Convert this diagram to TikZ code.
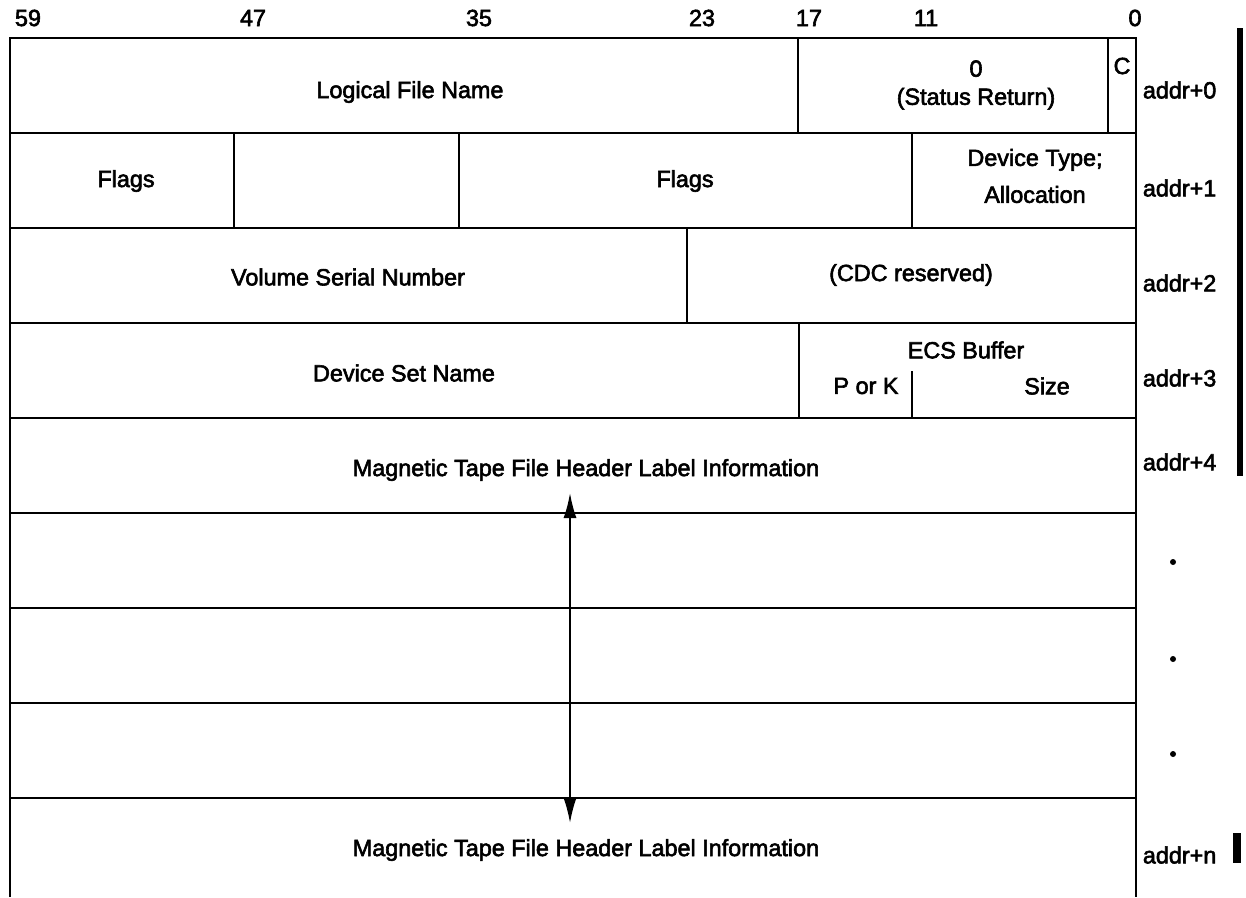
\documentclass[tikz,border=0pt]{standalone}
\usepackage{fontspec}
\setmainfont{Liberation Sans}[FakeBold=2.5,AutoFakeBold=2.5]
\usetikzlibrary{arrows.meta}

\begin{document}
\begin{tikzpicture}[x=0.2mm,y=-0.2mm,line width=1.3pt,
  txt/.style={font=\fontsize{13.3}{16}\selectfont,inner sep=1pt,align=center},
  addr/.style={txt,anchor=west},
  dot/.style={circle,fill,inner sep=0,minimum size=1.2mm},
  bar/.style={line width=3.8pt}]
\useasboundingbox (0,0) rectangle (1246,897);
\draw[line width=1.5pt] (10,897)--(10,38)--(1136,38)--(1136,897);
\foreach \y in {133,228,...,798} \draw (10,\y)--(1136,\y);
\draw (798,38)--(798,133) (1108,38)--(1108,133);
\draw (234,133)--(234,228) (459,133)--(459,228) (912,133)--(912,228);
\draw (687,228)--(687,323);
\draw (799,323)--(799,418) (912,371)--(912,418);
\foreach \b/\x in {59/28,47/253,35/479,23/702,17/809,11/926,0/1135}
  \node[txt] (bit\b) at (\x,18) {\b};
\node[txt] (lfn) at (410,92) {Logical File Name};
\node[txt] (stat) at (976,85) {0\\(Status Return)};
\node[txt] (cbit) at (1122,66) {C};
\node[txt] (flagsa) at (126,181) {Flags};
\node[txt] (flagsb) at (685,181) {Flags};
\node[txt] (dev) at (1035,176) {Device Type;\\[5pt]Allocation};
\node[txt] (vsn) at (348,277) {Volume Serial Number};
\node[txt] (cdc) at (911,275) {(CDC reserved)};
\node[txt] (dsn) at (404,373) {Device Set Name};
\node[txt] (ecs) at (966,350) {ECS Buffer};
\node[txt] (pork) at (866,386) {P or K};
\node[txt] (size) at (1047,386) {Size};
\node[txt] (maga) at (586,470) {Magnetic Tape File Header Label Information};
\node[txt] (magb) at (586,850) {Magnetic Tape File Header Label Information};
\foreach \k/\y in {0/90,1/188,2/283,3/378,4/462,n/855}
  \node[addr] (addr\k) at (1140,\y) {addr+\k};
\foreach \i/\y in {1/562,2/659,3/754} \node[dot] (dot\i) at (1173,\y) {};
\coordinate (tipup) at (570,493);
\coordinate (tipdn) at (570,823);
\draw[line width=1pt,{Latex[length=5mm,width=2.6mm]}-{Latex[length=5mm,width=2.6mm]}] (tipup)--(tipdn);
\draw[bar] (1240,28)--(1240,476);
\draw[line width=4.5pt] (1237,833)--(1237,863);
\end{tikzpicture}
\end{document}
